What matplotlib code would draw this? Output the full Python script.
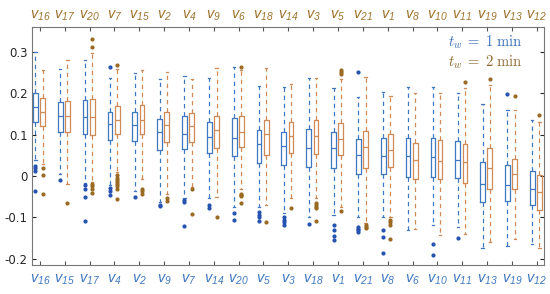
import matplotlib
matplotlib.use("Agg")
import matplotlib.pyplot as plt
import numpy as np

plt.rcParams['mathtext.fontset'] = 'custom'
plt.rcParams['mathtext.rm'] = 'Liberation Sans:italic'
plt.rcParams['mathtext.it'] = 'Liberation Sans:italic'

# variable order under each time window
ids_1min = [16, 15, 17, 4, 2, 9, 7, 14, 20, 5, 3, 18, 1, 21, 8, 6, 10, 11, 13, 19, 12]
ids_2min = [16, 17, 20, 7, 15, 2, 4, 9, 6, 18, 14, 3, 5, 21, 1, 8, 10, 11, 19, 13, 12]

# t_w = 1 min
b_wlo = [0.04, 0.005, -0.017, -0.022, -0.035, -0.062, -0.054, -0.054, -0.074, -0.074, -0.09,
         -0.1, -0.094, -0.10, -0.10, -0.131, -0.119, -0.123, -0.175, -0.169, -0.163]
b_q1 = [0.131, 0.108, 0.103, 0.087, 0.085, 0.063, 0.065, 0.055, 0.049, 0.033, 0.027,
        0.023, 0.019, 0.006, 0.004, -0.002, -0.002, -0.004, -0.062, -0.061, -0.07]
b_med = [0.168, 0.145, 0.142, 0.126, 0.123, 0.107, 0.101, 0.095, 0.093, 0.077, 0.073,
         0.069, 0.067, 0.052, 0.049, 0.048, 0.047, 0.04, -0.02, -0.022, -0.031]
b_q3 = [0.20, 0.18, 0.184, 0.154, 0.156, 0.138, 0.146, 0.13, 0.14, 0.111, 0.107,
        0.115, 0.106, 0.091, 0.093, 0.093, 0.093, 0.085, 0.035, 0.028, 0.012]
b_whi = [0.30, 0.26, 0.28, 0.237, 0.249, 0.236, 0.242, 0.238, 0.265, 0.219, 0.216,
         0.238, 0.214, 0.192, 0.204, 0.215, 0.216, 0.2, 0.174, 0.16, 0.136]
b_out = [[0.025, 0.02, 0.012, -0.035], [-0.01], [-0.022, -0.03, -0.05, -0.108],
         [0.265, -0.028, -0.035, -0.046], [-0.05], [-0.07, -0.073], [-0.058, -0.062, -0.121],
         [-0.07, -0.078], [-0.09, -0.107], [-0.086, -0.093, -0.1, -0.109],
         [-0.099, -0.105, -0.111, -0.117], [-0.116], [-0.119, -0.131, -0.145, -0.155],
         [0.253, -0.123, -0.127, -0.131, -0.135], [-0.131, -0.147, -0.187], [],
         [-0.165, -0.19], [-0.149], [], [0.198], []]

# t_w = 2 min
o_wlo = [0.03, -0.02, -0.014, 0.01, -0.006, -0.042, -0.026, -0.05, -0.03, -0.069, -0.054,
         -0.054, -0.074, -0.114, -0.098, -0.127, -0.143, -0.141, -0.16, -0.151, -0.175]
o_q1 = [0.121, 0.107, 0.10, 0.103, 0.101, 0.082, 0.082, 0.067, 0.071, 0.051, 0.055,
        0.053, 0.051, 0.019, 0.023, -0.006, -0.006, -0.016, -0.03, -0.031, -0.082]
o_med = [0.156, 0.145, 0.143, 0.137, 0.136, 0.123, 0.122, 0.111, 0.107, 0.101, 0.097,
         0.097, 0.091, 0.071, 0.063, 0.039, 0.036, 0.035, 0.019, 0.005, -0.038]
o_q3 = [0.19, 0.182, 0.187, 0.17, 0.172, 0.156, 0.152, 0.146, 0.145, 0.137, 0.132,
        0.136, 0.128, 0.109, 0.103, 0.081, 0.087, 0.077, 0.067, 0.041, 0.002]
o_whi = [0.258, 0.28, 0.297, 0.26, 0.258, 0.253, 0.236, 0.261, 0.257, 0.261, 0.224,
         0.238, 0.236, 0.24, 0.195, 0.2, 0.2, 0.214, 0.22, 0.16, 0.131]
o_out = [[0.02, 0.003, -0.042], [-0.064], [0.333, 0.313, -0.02, -0.025, -0.03, -0.04],
         [0.27, 0.002, -0.005, -0.01, -0.015, -0.02, -0.025, -0.03, -0.055],
         [-0.031, -0.037, -0.042], [-0.054, -0.06], [-0.03, -0.091], [-0.098],
         [0.265, -0.042, -0.045, -0.048, -0.066], [-0.112], [-0.078],
         [-0.065, -0.07, -0.075, -0.078, -0.109], [0.257, 0.251, 0.246, -0.085],
         [-0.119, -0.122, -0.125], [-0.107, -0.112, -0.118, -0.152], [], [], [0.228],
         [0.234], [0.194], [0.148]]

blue = '#3f78c0'
blue_dot = '#2552b0'
orange = '#cf8a55'
brown = '#a0742e'
brown_dot = '#9a6a22'


def make_stats(wlo, q1, med, q3, whi, out):
    return [dict(whislo=a, q1=b, med=c, q3=d, whishi=e, fliers=f)
            for a, b, c, d, e, f in zip(wlo, q1, med, q3, whi, out)]


def draw(ax, stats, pos, col, dotcol):
    ax.bxp(stats, positions=pos, widths=0.19, capwidths=0.09, manage_ticks=False,
           boxprops=dict(color=col, lw=0.9),
           medianprops=dict(color=col, lw=0.9),
           whiskerprops=dict(color=col, lw=0.9, linestyle=(0, (3.5, 3))),
           capprops=dict(color=col, lw=0.9),
           flierprops=dict(marker='o', markersize=2.0, markerfacecolor=dotcol,
                           markeredgecolor=dotcol))


fig = plt.figure(figsize=(5.5, 2.94), dpi=100)
ax = fig.add_axes([0.059, 0.1, 0.93, 0.807])

x = np.arange(1, len(ids_1min) + 1)
draw(ax, make_stats(b_wlo, b_q1, b_med, b_q3, b_whi, b_out), x - 0.18, blue, blue_dot)
draw(ax, make_stats(o_wlo, o_q1, o_med, o_q3, o_whi, o_out), x + 0.11, orange, brown_dot)

ax.set_xlim(0.70, 21.29)
ax.set_ylim(-0.214, 0.36)
ax.set_yticks([-0.2, -0.1, 0, 0.1, 0.2, 0.3])
ax.set_yticklabels(['-0.2', '-0.1', '0', '0.1', '0.2', '0.3'])
ax.set_xticks(x)
ax.set_xticklabels([f'$v_{{{i}}}$' for i in ids_1min], color=blue, fontsize=10.5)
ax.tick_params(axis='y', labelsize=8.5, colors='#262626', direction='in', right=True, length=3)
ax.tick_params(axis='x', direction='in', length=3, color='#555555', pad=5)
for s in ax.spines.values():
    s.set_color('#777777')
    s.set_linewidth(0.8)

ax2 = ax.twiny()
ax2.set_xlim(ax.get_xlim())
ax2.set_xticks(x)
ax2.set_xticklabels([f'$v_{{{i}}}$' for i in ids_2min], color=brown, fontsize=10.5)
ax2.tick_params(axis='x', direction='in', length=3, color='#555555', pad=3)
for s in ax2.spines.values():
    s.set_visible(False)

ax.text(0.959, 0.938, r'$t_w\;=\;1\ \mathrm{min}$', transform=ax.transAxes, ha='right',
        va='center', fontsize=10.5, color='#3a6fb8', math_fontfamily='cm')
ax.text(0.959, 0.852, r'$t_w\;=\;2\ \mathrm{min}$', transform=ax.transAxes, ha='right',
        va='center', fontsize=10.5, color='#8f6a30', math_fontfamily='cm')

fig.savefig('out.png', dpi=100)
